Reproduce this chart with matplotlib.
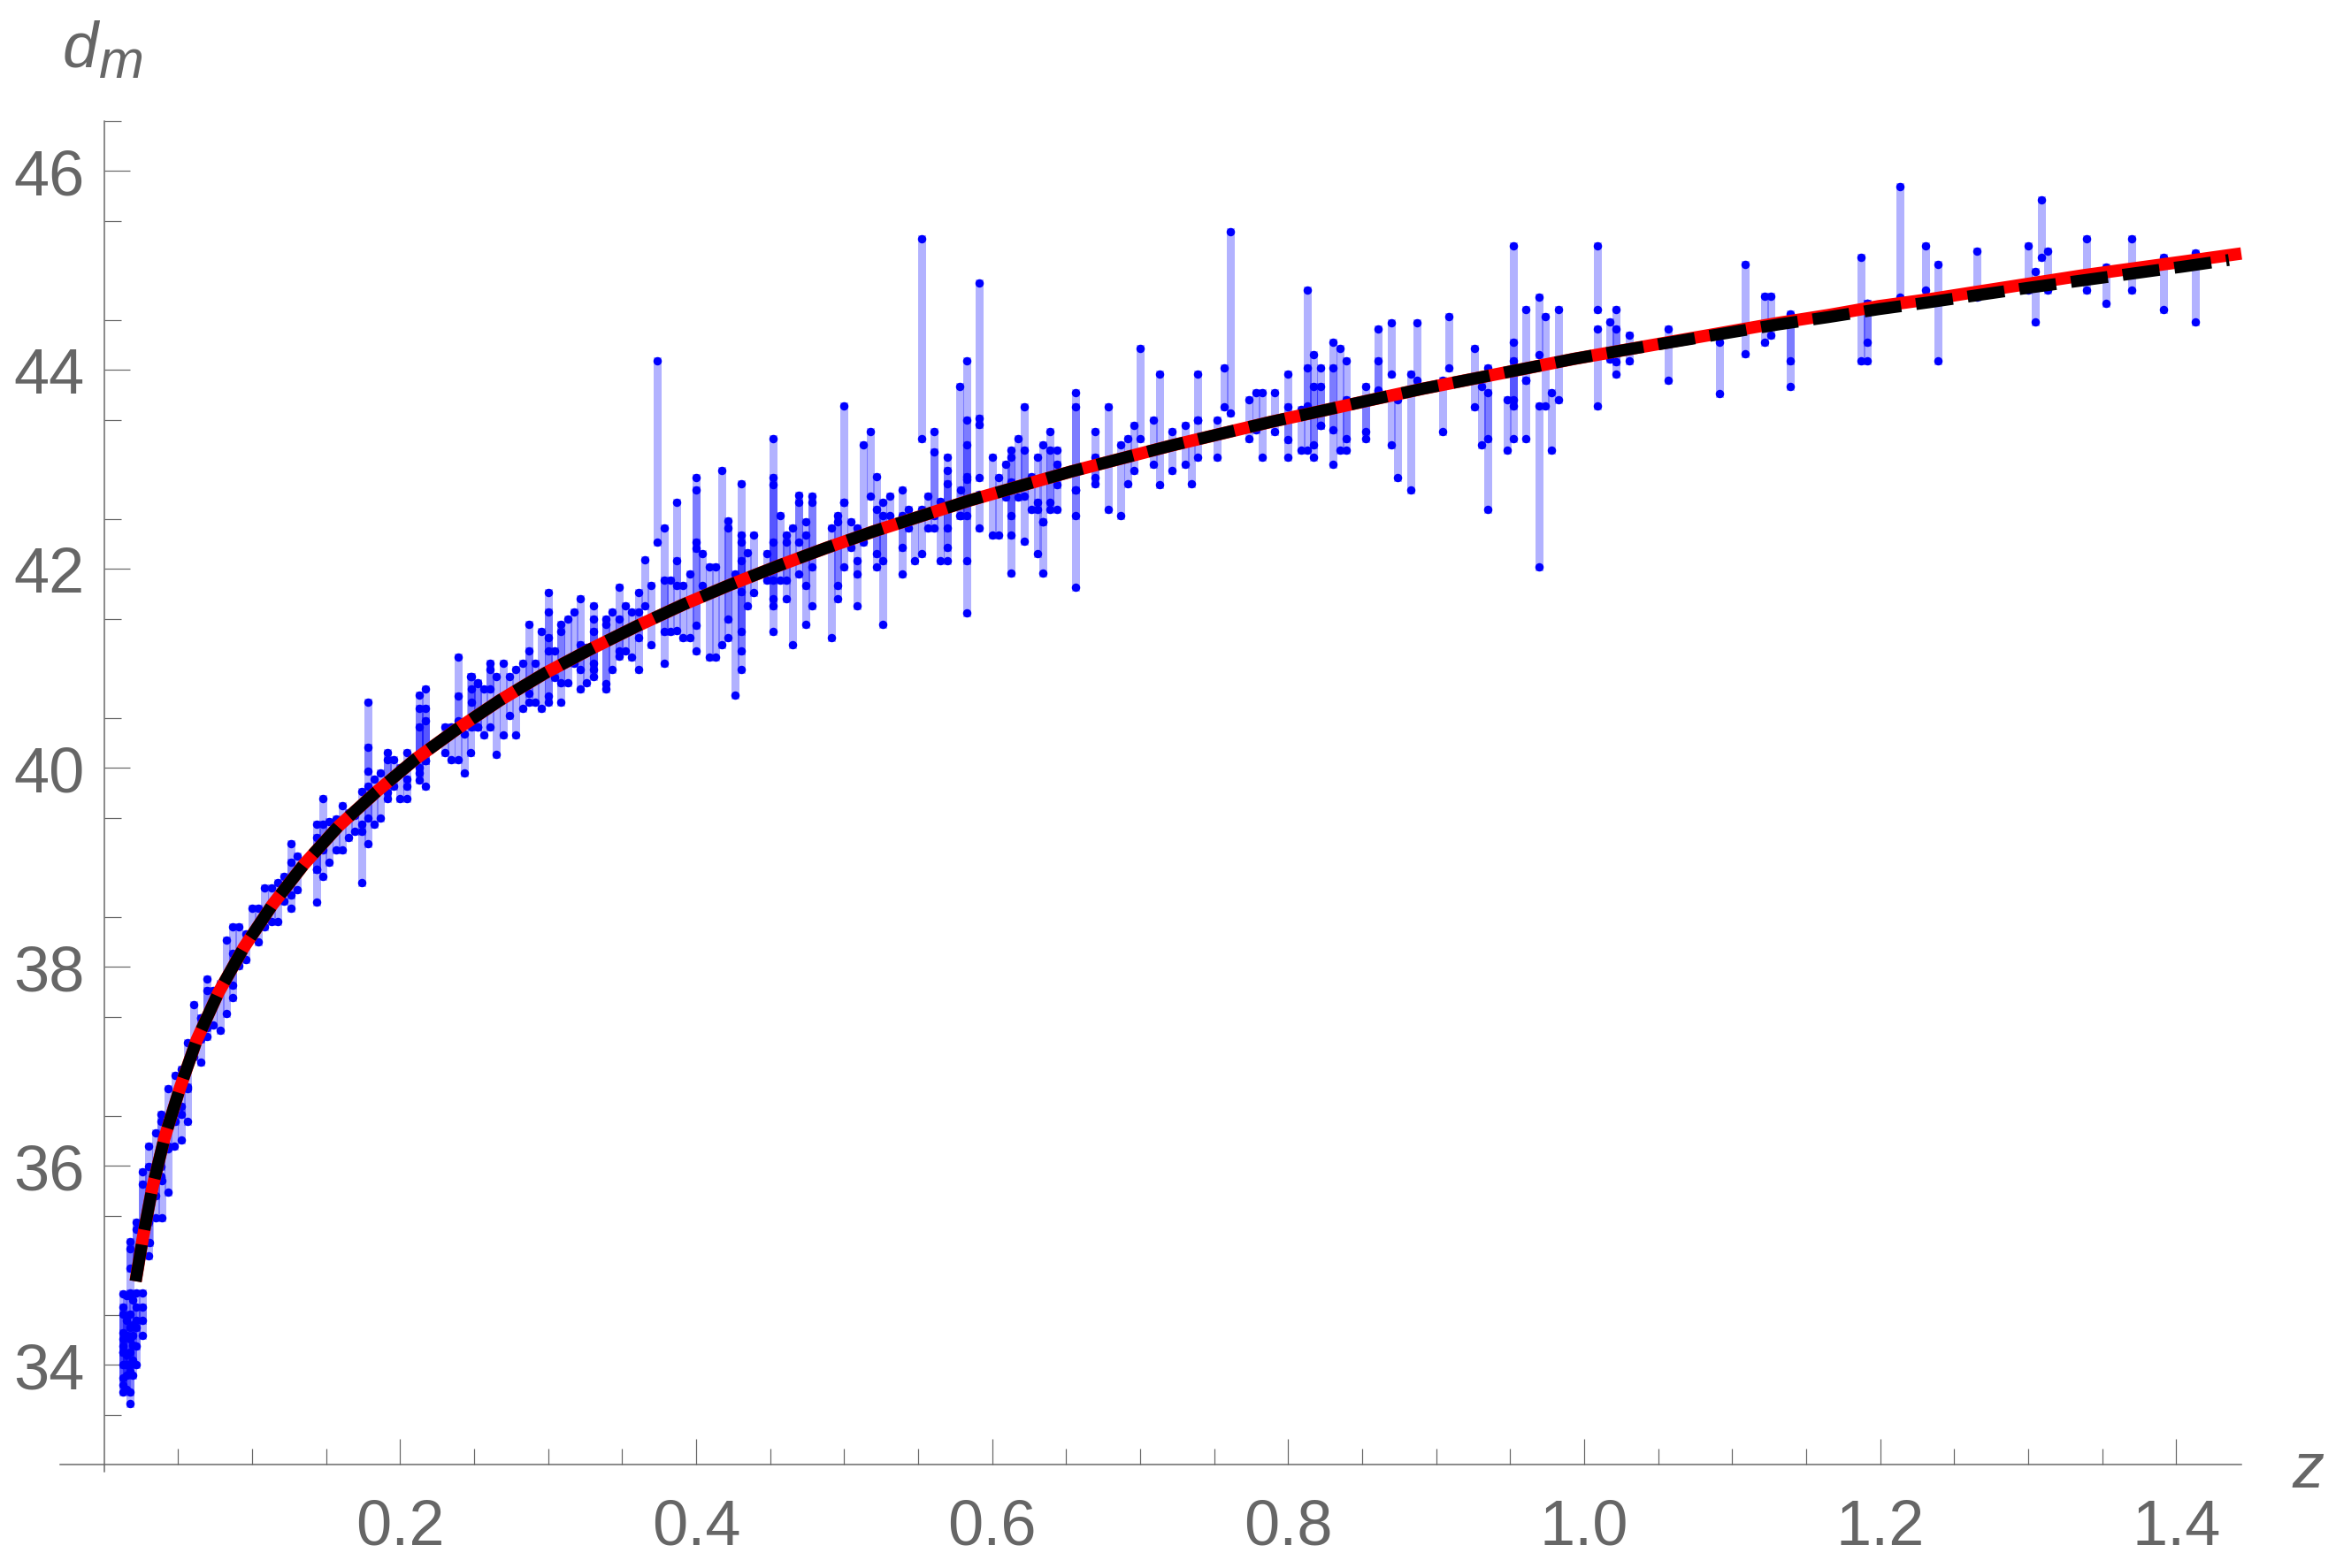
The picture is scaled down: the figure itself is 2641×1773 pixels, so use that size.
import numpy as np
import matplotlib
matplotlib.use("Agg")
import matplotlib.pyplot as plt

# --- low redshift bars
zA = [.0129,.0129,.0129,.0129,.0129,.0129,.0151,.0151,.0151,.0151,.0173,.0173,.0173,.0173,.0173,.0195,.0195,.0195,.0217,.0217,.0217,.0261,.0261,
      .0173,.0173,.0217,.0217,.0261,.0261,.0303,.0303,.0309,.0348,.0346,.0386,.0392,.0386,.0432,.0432,.0478,.0476,.0522,.0522,.0561,.0565,.0607,.0651,
      .0651,.0693,.0693,.0735,.0783,.0827,.0868,.0868,.0912,.0958,.0999,.1044,.1085,.1129,.1173,.1217,.1261,.1261,.1303]
hiA = [34.71,34.58,34.51,34.32,34.19,34.13,34.70,34.45,34.30,34.10,34.72,34.51,34.26,34.13,34.00,34.65,34.40,34.20,34.72,34.58,34.45,34.72,34.58,
       35.24,35.17,35.43,35.36,35.94,35.82,36.20,35.99,35.60,36.33,35.94,36.52,35.85,36.45,36.78,36.17,36.91,36.53,36.97,36.60,37.24,36.79,37.62,37.49,
       37.49,37.88,37.76,37.76,37.83,38.27,38.40,38.14,38.40,38.33,38.59,38.59,38.79,38.79,38.85,38.91,39.24,39.05,39.11]
loA = [34.26,34.13,34.00,33.87,33.80,33.73,34.30,34.00,33.90,33.75,34.38,34.00,33.93,33.73,33.61,34.30,34.05,33.90,34.38,34.00,34.19,34.45,34.30,
       34.97,34.70,35.00,34.90,35.40,35.20,35.43,35.10,35.23,35.70,35.48,35.99,35.48,35.90,36.20,35.74,36.45,36.20,36.52,36.26,36.78,36.45,37.10,37.04,
       37.27,37.39,37.30,37.42,37.36,37.53,37.69,37.82,38.01,38.07,38.33,38.25,38.40,38.46,38.46,38.66,38.59,38.72,38.78]

zB = [.1436,.1436,.1436,.1478,.1478,.1522,.1566,.1607,.1651,.1739,.1739,.1695,.1783,.1783,.1783,.1827,.1868,.1912,.1912,.1956,.2000,.2044,.2044,.2129,.2129,.2129,.2173,.2173,.2173,.2301,.2345,.2391,.2434,.2478,.2522]
hiB = [39.43,39.20,39.30,39.69,39.43,39.46,39.49,39.62,39.55,39.76,39.43,39.52,40.66,40.21,39.82,39.89,39.95,40.15,40.08,40.08,40.00,40.15,39.89,40.73,40.60,40.41,40.79,40.60,40.47,40.41,40.41,40.72,40.34,40.92,40.85]
loB = [38.98,38.65,38.98,38.91,39.18,39.05,39.18,39.18,39.30,38.85,39.36,39.36,39.97,39.50,39.24,39.43,39.50,39.69,39.75,39.82,39.69,39.69,39.82,39.88,39.95,40.00,39.82,40.07,40.07,40.15,40.08,40.08,39.95,40.15,40.41]

zC = [.2392,.2479,.2479,.2523,.2566,.2609,.2609,.2652,.2696,.2740,.2783,.2827,.2870,.2870,.2914,.2957,.3001,.3001,.3001,.3044,.3087,.3087,.3131,.3175,.3216,.3216,.3261,.3305,.3305,.3305,.3392,.3392,.3435,.3479,.3479,.3522,.3565,.3609,.3609,.3652,.3696]
hiC = [41.11,40.92,40.79,40.86,40.79,41.05,40.99,40.92,41.05,40.92,40.99,41.05,41.44,41.18,41.05,41.37,41.76,41.57,41.31,41.18,41.44,41.37,41.50,41.57,41.70,41.24,41.21,41.63,41.50,41.37,41.50,41.44,41.57,41.82,41.50,41.63,41.57,41.76,41.57,42.09,41.83]
loC = [40.47,40.41,40.66,40.41,40.33,40.41,40.79,40.14,40.33,40.53,40.33,40.60,40.66,40.75,40.66,40.60,41.18,40.66,40.72,40.91,40.66,40.86,40.86,41.05,40.99,40.79,40.86,41.05,40.92,40.99,40.79,40.85,40.99,41.18,41.12,41.18,41.11,40.99,41.31,41.63,41.24]

zD = [.3739,.3783,.3783,.3826,.3870,.3870,.3913,.3956,.4000,.4000,.4000,.4043,.4087,.4130,.4174,.4217,.4217,.4261,.4304,.4304,.4304,.4304,.4348,.4391,.4480,.4521,.4521,.4521,.4521,.4565,.4608,.4608,.4652,.4695,.4695,.4741,.4741,.4782,.4782,.4913,.4956,.4956,.4999,.4999,.5045,.5088,.5088,.5132,.5175,.5219,.5219,.5262,.5262,.5306,.5391,.5391,.5434,.5477,.5522,.5521,.5564,.5608,.5608,.5651,.5697,.5697,.5697,.5783,.5784,.5827,.5828,.5828,.5828]
hiD = [44.09,42.41,41.89,41.89,42.67,42.08,41.83,41.95,42.92,42.79,42.27,42.15,42.02,42.02,42.99,42.48,42.41,41.95,42.86,42.34,42.27,42.08,42.16,42.34,42.15,43.31,42.92,42.85,42.27,42.54,42.34,42.27,42.41,42.74,42.67,42.47,42.34,42.73,42.67,42.41,42.54,42.47,43.64,42.67,42.47,42.41,42.08,43.25,43.38,42.93,42.60,42.67,42.54,42.73,42.79,42.54,42.60,42.54,45.32,42.60,42.73,43.38,43.18,42.68,43.12,42.99,42.86,43.83,42.79,44.09,43.50,43.25,42.93]
loD = [42.27,41.05,41.37,41.37,41.83,41.38,41.31,41.31,42.21,41.18,41.43,41.83,41.11,41.11,41.24,41.31,41.50,40.73,41.77,41.18,40.99,41.37,41.63,41.76,41.89,41.89,41.37,41.63,41.70,41.89,41.70,41.89,41.24,41.95,42.27,41.44,41.83,41.63,42.02,41.31,41.70,41.83,42.67,42.02,42.22,41.63,41.95,42.27,42.73,42.02,42.15,41.44,42.08,42.54,41.95,42.22,42.41,42.08,43.31,42.15,42.41,42.54,42.41,42.08,42.22,42.08,42.41,42.54,42.54,42.90,42.54,41.56,42.08]

zE = [.5913,.5913,.5913,.5999,.6044,.6089,.6129,.6129,.6129,.6175,.6217,.6217,.6263,.6305,.6305,.6345,.6345,.6391,.6391,.6436,.6436,.6564,.6564,.6564,.6695,.6695,.6785,.6871,.6914,.6956,.6999,.7087,.7132,.7218,.7306,.7346,.7391,.7391,.7522,.7567,.7610,.7738,.7783,.7826,.7911,.7999,.7999]
hiE = [44.87,43.51,42.75,43.12,42.92,43.05,43.19,43.12,42.87,43.31,43.63,43.19,42.93,43.12,42.67,43.25,42.47,43.38,43.19,43.19,43.05,43.77,43.63,42.79,43.38,43.12,43.63,43.25,43.31,43.44,44.22,43.50,43.96,43.38,43.44,43.31,43.96,43.50,43.50,44.02,45.39,43.70,43.77,43.77,43.77,43.96,43.63]
loE = [43.45,42.92,42.41,42.34,42.34,42.72,42.54,42.34,41.96,42.72,42.73,42.28,42.60,42.60,42.15,42.47,41.96,42.60,42.67,42.60,42.85,42.79,42.54,41.82,42.86,42.92,42.60,42.54,42.86,42.99,43.31,43.05,42.85,42.99,43.05,42.86,43.50,43.12,43.12,43.63,43.57,43.31,43.40,43.12,43.38,43.12,43.30]

zF = [.8130,.8130,.8088,.8173,.8173,.8218,.8218,.8304,.8304,.8349,.8392,.8392,.8522,.8522,.8608,.8608,.8696,.8696,.8738,.8827,.8869,.9043,.9085,.9261,.9304,.9349,.9349,.9480,.9523,.9523,.9523,.9608,.9608,.9696,.9696,.9739,.9781,.9827]
hiF = [44.80,44.02,43.60,44.15,43.83,44.02,43.83,44.28,44.02,44.22,44.09,43.70,43.83,43.70,44.41,44.09,44.47,43.76,43.70,43.96,44.47,43.90,44.54,44.22,43.83,44.02,43.77,43.70,45.25,44.28,44.09,44.61,43.90,44.73,43.64,44.54,43.77,44.61]
loF = [43.64,43.19,43.19,43.25,43.12,43.44,43.44,43.05,43.40,43.19,43.19,43.31,43.31,43.38,43.79,43.80,43.96,43.25,42.92,42.79,43.90,43.38,44.02,43.63,43.25,42.60,43.31,43.19,43.64,43.31,43.70,43.90,43.31,44.15,42.02,43.64,43.19,43.70]

zG = [1.0092,1.0092,1.0217,1.0176,1.0217,1.0304,1.0567,1.0913,1.1089,1.1218,1.1259,1.1394,1.1394,1.1868,1.1913,1.1913,1.2131,1.2304,1.2391,1.2654,1.3003,1.3045,1.3090,1.3132,1.3394,1.3523,1.3699,1.3914,1.4132]
hiG = [45.25,44.41,44.61,44.48,44.41,44.35,44.41,44.28,45.06,44.74,44.74,44.56,44.50,45.13,44.67,44.67,45.84,45.25,45.06,45.19,45.25,44.99,45.71,45.19,45.32,45.03,45.32,45.13,45.18]
loG = [44.61,43.64,43.96,44.11,44.08,44.09,43.90,43.76,44.16,44.28,44.35,44.09,43.83,44.09,44.09,44.28,44.73,44.80,44.09,44.73,44.80,44.48,45.13,44.80,44.80,44.67,44.80,44.61,44.48]

# --- curves
curve_z = [.0213,.0261,.0326,.0408,.0512,.0627,.0772,.0942,.1135,.1350,.1581,.1840,.2105,.2384,.2675,.2977,.3282,.3593,.3911,.4229,.4553,.4878,.5205,.5539,.5853,.6204,.6537,.6874,.7212,.7551,.7890,.8232,.8565,.8907,.9248,.9590,.9928,1.0272,1.0615,1.0961,1.1304,1.1647,1.1990,1.2333,1.2676,1.3023,1.3369,1.3712,1.4055,1.4440]
red_dm = [34.84,35.27,35.78,36.28,36.78,37.27,37.74,38.19,38.62,39.03,39.41,39.76,40.09,40.39,40.68,40.95,41.19,41.42,41.64,41.84,42.03,42.21,42.38,42.54,42.69,42.84,42.98,43.11,43.24,43.36,43.48,43.59,43.70,43.81,43.91,44.01,44.11,44.20,44.29,44.38,44.47,44.55,44.64,44.71,44.79,44.87,44.95,45.02,45.09,45.17]
black_z = [.0213,.0261,.0326,.0408,.0512,.0627,.0772,.0942,.1135,.1350,.1581,.1840,.2105,.2384,.2675,.2977,.3282,.3593,.3911,.4229,.4553,.4878,.5205,.5539,.5853,.6204,.6537,.6874,.7212,.7551,.7890,.8232,.8565,.8907,.9248,.9590,.9928,1.0272,1.0615,1.0961,1.1304,1.1647,1.1990,1.2333,1.2676,1.3023,1.3369,1.3712,1.4055,1.4356]
black_dm = [34.84,35.27,35.78,36.28,36.78,37.27,37.74,38.19,38.62,39.03,39.41,39.76,40.09,40.39,40.68,40.95,41.19,41.42,41.64,41.84,42.03,42.21,42.38,42.54,42.69,42.84,42.98,43.11,43.24,43.36,43.48,43.59,43.70,43.81,43.91,44.01,44.11,44.20,44.285,44.37,44.455,44.53,44.61,44.68,44.755,44.83,44.90,44.97,45.04,45.105]

xticks_major = [0.2,0.4,0.6,0.8,1.0,1.2,1.4]
xticks_minor = [.05,.10,.15,.25,.30,.35,.45,.50,.55,.65,.70,.75,.85,.90,.95,1.05,1.10,1.15,1.25,1.30,1.35]
yticks_major = [34,36,38,40,42,44,46]
yticks_minor = [33.5,34.5,35.5,36.5,37.5,38.5,39.5,40.5,41.5,42.5,43.5,44.5,45.5,46.5]

W, H = 2641, 1774
GRAY = "#666666"
px = 72/100  # points per pixel at dpi 100
plt.rcParams["font.family"] = ["Liberation Sans", "DejaVu Sans"]

fig = plt.figure(figsize=(W/100, H/100), dpi=100, facecolor="white")
L, R, T, B = 68.0, 2533.7, 138.0, 1656.8
ax = fig.add_axes([L/W, 1-B/H, (R-L)/W, (B-T)/H])
ax.set_xlim((L-117.7)/1673.3, (R-117.7)/1673.3)
ax.set_ylim(33.0, 46.5)

ax.spines["top"].set_visible(False)
ax.spines["right"].set_visible(False)
ax.spines["left"].set_position(("data", 0))
ax.spines["left"].set_bounds(32.93, 46.5)
for s in ("left", "bottom"):
    ax.spines[s].set_color(GRAY)
    ax.spines[s].set_linewidth(1.5*px)

ax.set_xticks(xticks_major)
ax.set_xticklabels([f"{v:.1f}" for v in xticks_major])
ax.set_xticks(xticks_minor, minor=True)
ax.set_yticks(yticks_major)
ax.set_yticklabels([str(v) for v in yticks_major])
ax.set_yticks(yticks_minor, minor=True)
ax.tick_params(which="major", direction="in", length=29*px, width=1.2*px, color=GRAY, labelcolor=GRAY, labelsize=52)
ax.tick_params(which="minor", direction="in", length=18.5*px, width=1.2*px, color=GRAY)
ax.tick_params(axis="x", which="major", pad=38*px)
ax.tick_params(axis="y", which="major", pad=22*px)

z = np.array(zA+zB+zC+zD+zE+zF+zG)
hi = np.array(hiA+hiB+hiC+hiD+hiE+hiF+hiG)
lo = np.array(loA+loB+loC+loD+loE+loF+loG)
ax.vlines(z, lo, hi, colors="#0000FF", alpha=0.3, linewidth=9*px, capstyle="projecting", zorder=2)
ax.plot(np.r_[z, z], np.r_[hi, lo], ls="none", marker="o", ms=9.5*px, mfc="#0000FF", mec="none", zorder=3)

ax.plot(curve_z, red_dm, color="#FF0000", lw=14*px, solid_capstyle="butt", solid_joinstyle="round", zorder=4, clip_on=False)
ax.plot(black_z, black_dm, color="black", lw=13.5*px, linestyle=(0, (42/13.5, 17/13.5)), dash_capstyle="butt", zorder=5, clip_on=False)

def label(s, x, y, size, **kw):
    fig.text(x/W, 1-y/H, s, fontsize=size, color=GRAY, ha="left", va="baseline", **kw)

label("d", 71, 75, 52, style="italic")
label("m", 112, 88, 44, style="italic")
label("z", 2591, 1682, 52, style="italic")

fig.savefig("out.png", dpi=100, facecolor="white")
